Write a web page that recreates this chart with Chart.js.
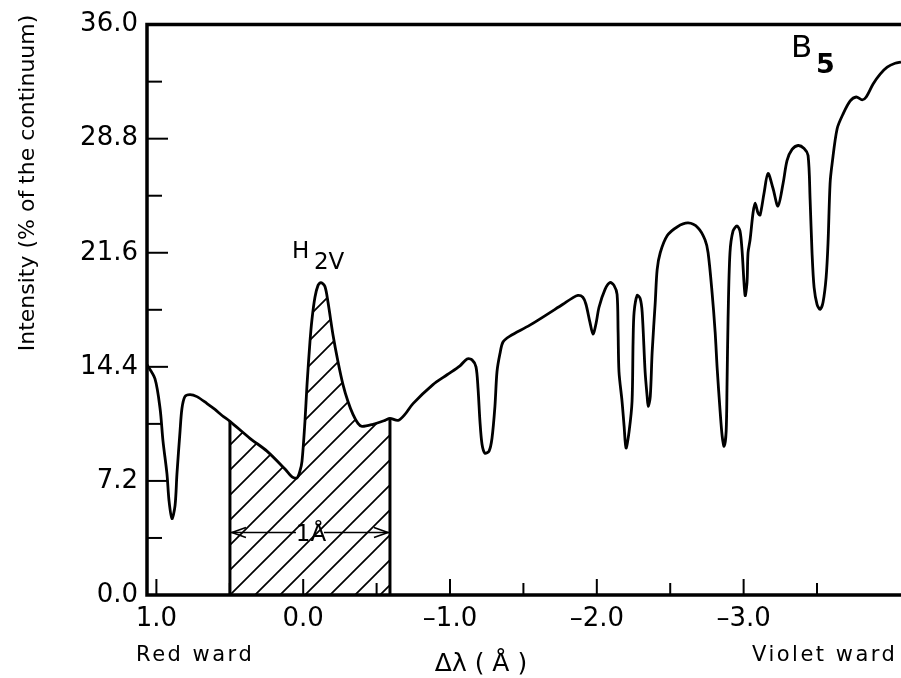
<!DOCTYPE html>
<html>
<head>
<meta charset="utf-8">
<script src="https://cdn.jsdelivr.net/npm/chart.js@4.4.1/dist/chart.umd.min.js"></script>
<style>
    html, body { margin: 0; padding: 0; background: #fff; overflow: hidden; }
    #wrap { width: 901px; height: 678px; }
</style>
</head>
<body>
<div id="wrap"><canvas id="spectrum" width="901" height="678"></canvas></div>
<script>
const deltaLambda = [
    1.064, 1.010, 0.975, 0.955, 0.928, 0.914, 0.894, 0.873, 0.860, 0.839, 0.826, 0.806, 0.771, 0.724,
    0.655, 0.601, 0.553, 0.499, 0.363, 0.247, 0.124, 0.076, 0.042, 0.022, 0.008, -0.012, -0.026,
    -0.046, -0.060, -0.080, -0.101, -0.121, -0.148, -0.169, -0.203, -0.237, -0.271, -0.305, -0.339,
    -0.373, -0.400, -0.475, -0.557, -0.591, -0.646, -0.693, -0.748, -0.884, -0.980, -1.068, -1.116,
    -1.150, -1.177, -1.191, -1.204, -1.218, -1.238, -1.266, -1.286, -1.306, -1.320, -1.340, -1.361,
    -1.408, -1.544, -1.769, -1.830, -1.871, -1.905, -1.926, -1.953, -1.974, -1.994, -2.015, -2.056,
    -2.090, -2.117, -2.138, -2.145, -2.151, -2.172, -2.186, -2.199, -2.220, -2.240, -2.247, -2.254,
    -2.275, -2.295, -2.309, -2.329, -2.343, -2.350, -2.364, -2.377, -2.398, -2.411, -2.432, -2.479,
    -2.547, -2.622, -2.690, -2.737, -2.758, -2.785, -2.806, -2.820, -2.840, -2.854, -2.867, -2.881,
    -2.887, -2.894, -2.907, -2.928, -2.955, -2.975, -2.989, -3.010, -3.023, -3.030, -3.044, -3.064,
    -3.078, -3.098, -3.112, -3.139, -3.166, -3.200, -3.234, -3.269, -3.296, -3.330, -3.371, -3.412,
    -3.439, -3.453, -3.466, -3.480, -3.500, -3.521, -3.541, -3.562, -3.575, -3.589, -3.603, -3.637,
    -3.678, -3.726, -3.767, -3.808, -3.835, -3.882, -3.930, -3.978, -4.032, -4.072
];
// intensity in % of the continuum, same order
const intensity = [
    14.53, 13.65, 11.77, 9.71, 7.64, 5.95, 4.82, 5.64, 7.64, 10.33, 11.77, 12.52, 12.65, 12.52,
    12.08, 11.71, 11.33, 10.96, 9.89, 9.08, 7.95, 7.45, 7.39, 7.83, 8.45, 10.96, 13.28,
    15.97, 17.41, 18.79, 19.54, 19.72, 19.47, 18.47, 16.41, 14.72, 13.28, 12.21, 11.40,
    10.83, 10.64, 10.77, 11.02, 11.15, 11.02, 11.40, 12.08, 13.28, 13.90, 14.46, 14.90,
    14.84, 14.40, 13.02, 10.96, 9.52, 8.95, 9.08, 9.89, 11.90, 14.09, 15.22, 15.97,
    16.34, 17.03, 18.35, 18.72, 18.91, 18.79, 18.35, 17.22, 16.47, 17.10, 18.16, 19.29,
    19.72, 19.54, 18.97, 16.59, 14.09, 12.21, 10.64, 9.27, 10.33, 12.21, 15.97, 17.85,
    18.91, 18.72, 17.85, 14.09, 12.52, 11.90, 12.52, 15.34, 18.47, 20.54, 21.60, 22.67,
    23.23, 23.48, 23.17, 22.42, 21.60, 19.10, 16.59, 14.28, 11.58, 10.02, 9.39, 10.33,
    13.28, 17.41, 21.60, 22.98, 23.29, 22.98, 21.79, 18.91, 19.72, 21.60, 22.42, 24.11,
    24.73, 24.11, 23.98, 25.36, 26.61, 25.67, 24.55, 25.99, 27.43, 28.12, 28.37, 28.18,
    27.74, 24.92, 21.60, 19.41, 18.35, 18.03, 18.47, 20.04, 22.23, 25.99, 27.24, 29.43,
    30.37, 31.18, 31.43, 31.25, 31.43, 32.25, 32.87, 33.31, 33.56, 33.63
];

const xTicks = [1, 0, -1, -2, -3];
const xMinorTicks = [0.5, -0.5, -1.5, -2.5, -3.5];
const yTicks = [0, 7.2, 14.4, 21.6, 28.8, 36];
const yMinorTicks = [3.6, 10.8, 18, 25.2, 32.4];

// the 1 A wide shaded band and its arrow
const hatchFrom = 0.499;
const hatchTo = -0.591;
const arrowLevel = 3.94;

const points = deltaLambda.map((x, i) => ({ x: x, y: intensity[i] }));
const hatchPoints = points.filter(p => p.x <= hatchFrom && p.x >= hatchTo);
const hatchLeftTop = hatchPoints[0].y;
const hatchRightTop = hatchPoints[hatchPoints.length - 1].y;

function makeHatch() {
    const c = document.createElement('canvas');
    c.width = 25; c.height = 25;
    const g = c.getContext('2d');
    g.strokeStyle = '#000';
    g.lineWidth = 1.7;
    g.beginPath();
    g.moveTo(-5, 30); g.lineTo(30, -5);
    g.moveTo(-5, 5); g.lineTo(5, -5);
    g.moveTo(20, 30); g.lineTo(30, 20);
    g.stroke();
    return g.createPattern(c, 'repeat');
}

function line(ctx, x1, y1, x2, y2) {
    ctx.beginPath();
    ctx.moveTo(x1, y1);
    ctx.lineTo(x2, y2);
    ctx.stroke();
}

const framePlugin = {
    id: 'frame',
    afterDraw(chart) {
        const ctx = chart.ctx;
        const a = chart.chartArea;
        const xs = chart.scales.x;
        const ys = chart.scales.y;
        ctx.save();
        ctx.strokeStyle = '#000';
        ctx.fillStyle = '#000';

        // edges of the shaded band
        ctx.lineWidth = 3;
        let xl = xs.getPixelForValue(hatchFrom);
        let xr = xs.getPixelForValue(hatchTo);
        line(ctx, xl, a.bottom, xl, ys.getPixelForValue(hatchLeftTop));
        line(ctx, xr, a.bottom, xr, ys.getPixelForValue(hatchRightTop));

        // 1 A arrow
        ctx.lineWidth = 1.6;
        let ay = ys.getPixelForValue(arrowLevel);
        let mid = (xl + xr) / 2;
        line(ctx, xl + 1, ay, mid - 14, ay);
        line(ctx, mid + 14, ay, xr - 1, ay);
        ctx.beginPath();
        ctx.moveTo(xl + 16, ay - 5); ctx.lineTo(xl + 2, ay); ctx.lineTo(xl + 16, ay + 5);
        ctx.moveTo(xr - 16, ay - 5); ctx.lineTo(xr - 2, ay); ctx.lineTo(xr - 16, ay + 5);
        ctx.stroke();
        ctx.font = '23px "DejaVu Sans"';
        ctx.textAlign = 'center';
        ctx.textBaseline = 'middle';
        ctx.fillText('1\u00c5', mid + 1, ay + 2);

        // frame: left, bottom, top
        ctx.lineWidth = 3.5;
        ctx.beginPath();
        ctx.moveTo(a.right + 5, a.top);
        ctx.lineTo(a.left, a.top);
        ctx.lineTo(a.left, a.bottom);
        ctx.lineTo(a.right + 5, a.bottom);
        ctx.stroke();

        // inward tick marks
        ctx.lineWidth = 2;
        xTicks.forEach(v => { let px = xs.getPixelForValue(v); line(ctx, px, a.bottom, px, a.bottom - 16); });
        xMinorTicks.forEach(v => { let px = xs.getPixelForValue(v); line(ctx, px, a.bottom, px, a.bottom - 12); });
        yTicks.forEach(v => { let py = ys.getPixelForValue(v); line(ctx, a.left, py, a.left + 21, py); });
        yMinorTicks.forEach(v => { let py = ys.getPixelForValue(v); line(ctx, a.left, py, a.left + 15, py); });

        // labels
        ctx.textBaseline = 'alphabetic';
        ctx.textAlign = 'left';
        ctx.font = '31px "DejaVu Sans"';
        ctx.fillText('B', 791, 57);
        ctx.font = 'bold 27px "DejaVu Sans"';
        ctx.fillText('5', 816, 73);

        let hx = xs.getPixelForValue(-0.121);
        ctx.font = '23px "DejaVu Sans"';
        ctx.fillText('H', hx - 29, 258);
        ctx.fillText('2V', hx - 7, 269);

        ctx.font = '21px "DejaVu Sans"';
        ctx.letterSpacing = '2.5px';
        ctx.fillText('Red ward', 136, 661);
        ctx.fillText('Violet ward', 752, 661);
        ctx.letterSpacing = '0px';

        ctx.textAlign = 'center';
        ctx.font = '25px "DejaVu Sans"';
        ctx.fillText('\u0394\u03bb ( \u00c5 )', 481, 671);

        ctx.translate(28, 183);
        ctx.rotate(-Math.PI / 2);
        ctx.textBaseline = 'middle';
        ctx.font = '22px "DejaVu Sans"';
        ctx.fillText('Intensity (% of the continuum)', 0, 0);
        ctx.restore();
    }
};

Chart.defaults.font.family = '"DejaVu Sans"';
Chart.defaults.color = '#000';

new Chart(document.getElementById('spectrum'), {
    type: 'line',
    data: {
        datasets: [
            {
                data: points,
                borderColor: '#000',
                borderWidth: 2.8,
                pointRadius: 0,
                tension: 0.3,
                fill: false
            },
            {
                data: hatchPoints,
                borderWidth: 0,
                borderColor: 'rgba(0,0,0,0)',
                backgroundColor: makeHatch(),
                pointRadius: 0,
                tension: 0.3,
                fill: 'origin'
            }
        ]
    },
    options: {
        responsive: false,
        animation: false,
        layout: { padding: { top: 20, left: 0, right: 0, bottom: 0 } },
        plugins: { legend: { display: false }, tooltip: { enabled: false } },
        scales: {
            x: {
                type: 'linear',
                reverse: true,
                min: -4.072,
                max: 1.064,
                grid: { display: false, drawTicks: false },
                border: { display: false },
                afterBuildTicks: axis => { axis.ticks = xTicks.map(v => ({ value: v })); },
                afterFit: axis => { axis.height = 83; },
                ticks: {
                    autoSkip: false,
                    maxRotation: 0,
                    padding: 9,
                    font: { size: 26 },
                    callback: v => (v < 0 ? '\u2013' : '') + Math.abs(v).toFixed(1)
                }
            },
            y: {
                type: 'linear',
                min: 0,
                max: 36,
                grid: { display: false, drawTicks: false },
                border: { display: false },
                afterBuildTicks: axis => { axis.ticks = yTicks.map(v => ({ value: v })); },
                afterFit: axis => { axis.width = 147; },
                ticks: {
                    padding: 9,
                    font: { size: 26 },
                    callback: v => v.toFixed(1)
                }
            }
        }
    },
    plugins: [framePlugin]
});
</script>
</body>
</html>
